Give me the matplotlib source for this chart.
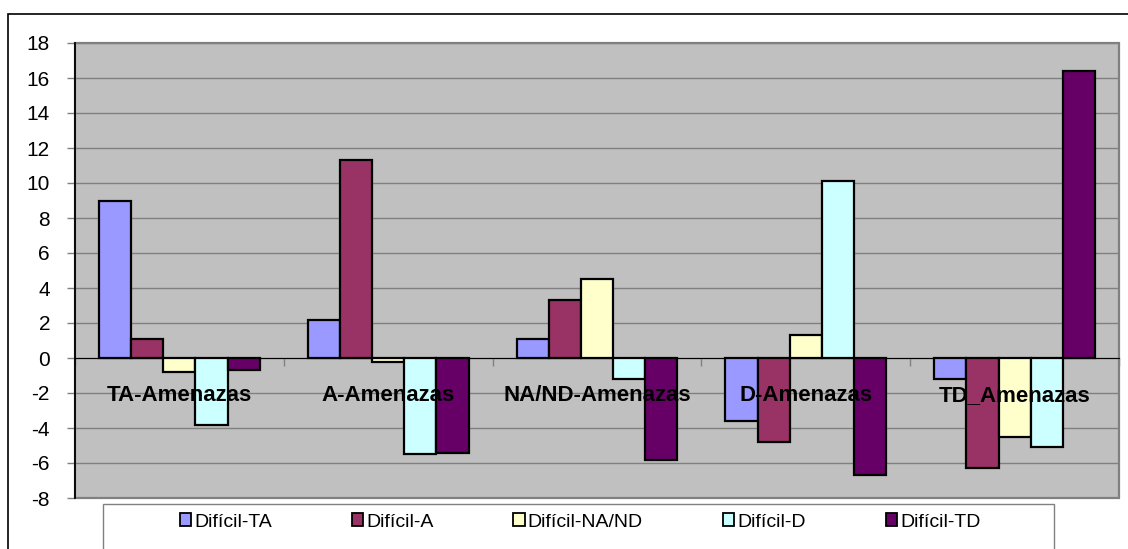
import matplotlib
matplotlib.use("Agg")
import matplotlib.pyplot as plt
from matplotlib.patches import Patch, Rectangle
import numpy as np

plt.rcParams['font.family'] = ['Liberation Sans', 'DejaVu Sans']
plt.rcParams['axes.unicode_minus'] = False

# Data
categories = ["TA-Amenazas", "A-Amenazas", "NA/ND-Amenazas", "D-Amenazas", "TD_Amenazas"]
series_names = ["Difícil-TA", "Difícil-A", "Difícil-NA/ND", "Difícil-D", "Difícil-TD"]
dificil_ta = [9.0, 2.2, 1.1, -3.6, -1.2]
dificil_a = [1.1, 11.3, 3.3, -4.8, -6.3]
dificil_nand = [-0.8, -0.2, 4.5, 1.3, -4.5]
dificil_d = [-3.8, -5.5, -1.2, 10.1, -5.1]
dificil_td = [-0.7, -5.4, -5.8, -6.7, 16.4]
y_ticks = list(range(-8, 19, 2))

series_values = [dificil_ta, dificil_a, dificil_nand, dificil_d, dificil_td]
colors = ["#9999FF", "#993366", "#FFFFCC", "#CCFFFF", "#660066"]

W, H = 1128, 549
fig = plt.figure(figsize=(W / 100, H / 100), dpi=100)
fig.patch.set_facecolor("white")

# Outer chart frame (runs off the right and bottom edges)
fig.patches.append(Rectangle((8 / W, -0.2), 1.2, 1.2 - 14 / H, transform=fig.transFigure,
                             fill=False, edgecolor="black", linewidth=1.2))

left, right, top, bottom = 75, 1119, 43, 498
ax = fig.add_axes([left / W, 1 - bottom / H, (right - left) / W, (bottom - top) / H])
ax.set_facecolor("#C0C0C0")

n_groups = len(categories)
n_series = len(series_values)
bar_w = 1 / (n_series + 1.5)
x = np.arange(n_groups)
for j, (vals, col) in enumerate(zip(series_values, colors)):
    ax.bar(x + (j - (n_series - 1) / 2) * bar_w, vals, width=bar_w, color=col,
           edgecolor="black", linewidth=1.6, zorder=3, label=series_names[j])

ax.set_xlim(-0.5, n_groups - 0.5)
ax.set_ylim(min(y_ticks), max(y_ticks))
ax.set_yticks(y_ticks)
ax.tick_params(axis="y", direction="out", length=6, width=1, color="#808080",
               labelsize=15, pad=12)
ax.yaxis.grid(True, color="#808080", linewidth=1)
ax.set_axisbelow(True)

# Category axis sits at zero
ax.spines["bottom"].set_position(("data", 0))
ax.spines["bottom"].set_color("black")
ax.spines["bottom"].set_linewidth(0.8)
ax.spines["bottom"].set_zorder(2.5)
ax.set_xticks(np.arange(n_groups + 1) - 0.5)
ax.set_xticklabels([])
ax.tick_params(axis="x", direction="out", length=6, width=1, color="#808080")
ax.spines["left"].set_color("black")
ax.spines["left"].set_linewidth(1.3)
ax.spines["top"].set_visible(False)
ax.spines["right"].set_visible(False)

# Plot-area border
ax.add_patch(Rectangle((0, 0), 1, 1, transform=ax.transAxes, fill=False,
                       edgecolor="#808080", linewidth=1.6, clip_on=False, zorder=1))

for i, cat in enumerate(categories):
    ax.text(i, -2.15, cat, ha="center", va="center", fontsize=16, fontweight="bold",
            color="black", zorder=4)

# Legend box (runs off the bottom edge)
fig.patches.append(Rectangle((103 / W, -0.2), (1054 - 103) / W, 0.2 + 1 - 504 / H,
                             transform=fig.transFigure, fill=True, facecolor="white",
                             edgecolor="#808080", linewidth=1))
handles = [Patch(facecolor=c, edgecolor="black", linewidth=1.3) for c in colors]
fig.legend(handles, series_names, loc="center", ncol=5, frameon=False,
           bbox_to_anchor=(580 / W, 1 - 522 / H), fontsize=14,
           handlelength=0.6, handleheight=0.6, handletextpad=0.15,
           columnspacing=4.1, borderpad=0)

fig.savefig("out.png", dpi=100)
